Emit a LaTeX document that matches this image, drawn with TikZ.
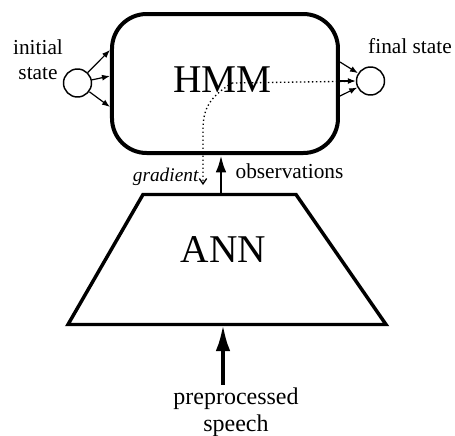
\documentclass[tikz,border=0pt]{standalone}
\usepackage{fontspec}
\setmainfont{Liberation Serif}
\usetikzlibrary{arrows.meta}

\begin{document}
\begin{tikzpicture}[x=0.75pt,y=-0.75pt,
  state/.style={draw,circle,line width=1.1pt,minimum size=21pt,inner sep=0pt},
  lbl/.style={font=\fontsize{16}{18.75}\selectfont,align=center,inner sep=1pt},
  big/.style={font=\fontsize{29.5}{34}\selectfont,inner sep=1pt},
  trans/.style={-{Latex[length=6pt,width=4.5pt]},line width=0.9pt},
  flow/.style={dotted,line width=1pt}]
\useasboundingbox (0,0) rectangle (455,436);

% the HMM with its entry and exit states
\node[draw,line width=3pt,rounded corners=26pt,minimum width=169.5pt,minimum height=104.25pt] (hmm) at (225,83.5) {};
\node[big] (hmmtxt) at (222.5,80) {HMM};
\node[state] (init) at (77.5,83) {};
\node[state] (final) at (370.5,81) {};
\node[lbl] (initlbl) at (38,60) {initial\\state};
\node[lbl,anchor=base] (finallbl) at (410,53) {final state};

\draw[trans] (init) -- (hmm.west |- 0,50);
\draw[trans] (init) -- (hmm.west |- 0,76);
\draw[trans] (init) -- (hmm.west |- 0,107);
\draw[trans] (hmm.east |- 0,62) -- (final);
\draw[trans] (hmm.east |- final) -- (final);
\draw[trans] (hmm.east |- 0,96) -- (final);

% the ANN below it
\coordinate (ann-nw) at (143,194.5);
\coordinate (ann-ne) at (296,194.5);
\coordinate (ann-se) at (386,324.5);
\coordinate (ann-sw) at (68,324.5);
\draw[line width=2.6pt,line join=miter] (ann-nw) -- (ann-ne) -- (ann-se) -- (ann-sw) -- cycle;
\node[big] (anntxt) at (223.5,249.5) {ANN};

\coordinate (ann-top) at (221,194.5);
\coordinate (ann-bot) at (223,324.5);
\draw[-{Latex[length=13pt,width=8pt]},line width=2.2pt] (ann-top) -- (ann-top |- hmm.south);
\node[lbl,anchor=base west] (obs) at (234,178) {observations};

% error signal going back down
\coordinate (mid) at (232,83);
\coordinate (grad-end) at (203,185);
\draw[flow] (mid) -- (final);
\draw[flow,-{Straight Barb[length=4pt,width=5.5pt]}] (mid) .. controls (210,97) and (203,108) .. (203,130) -- (grad-end);
\node[anchor=base east,inner sep=1pt,font=\fontsize{14.5}{17}\selectfont\itshape] (grad) at (200,181) {gradient};

% input
\node[font=\fontsize{18}{20.25}\selectfont,align=center,inner sep=2pt] (speech) at (236,412) {preprocessed\\speech};
\draw[-{Latex[length=20pt,width=11pt]},line width=3pt] (speech.north -| ann-bot) -- (ann-bot);
\end{tikzpicture}
\end{document}
